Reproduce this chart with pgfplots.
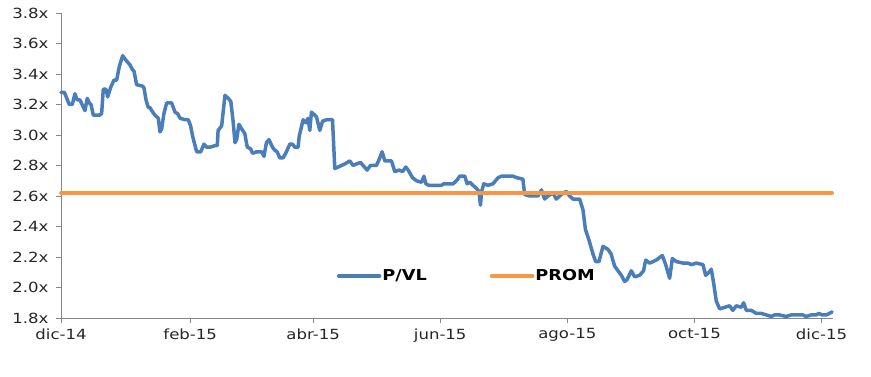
\documentclass[border=0pt]{standalone}
\usepackage{fontspec}
\setmainfont{DejaVu Sans}[FakeStretch=1.18]
\usepackage{pgfplots}
\pgfplotsset{compat=1.18}
\usetikzlibrary{calc}
\definecolor{pvl}{HTML}{4A7EBB}
\definecolor{prom}{HTML}{F79646}
\definecolor{axgray}{HTML}{868686}
\begin{document}
\begin{tikzpicture}
\begin{axis}[
  scale only axis,
  width=772pt, height=305pt,
  xmin=0, xmax=370.5,
  ymin=1.8, ymax=3.8,
  axis x line*=bottom, axis y line*=left,
  axis line style={axgray, line width=0.9pt},
  every tick/.style={axgray, line width=0.9pt},
  tick align=outside,
  major tick length=5pt,
  xtick={0,62,121,182,243,304,365},
  xticklabels={dic-14,feb-15,abr-15,jun-15,ago-15,oct-15,dic-15},
  ytick={1.8,2.0,2.2,2.4,2.6,2.8,3.0,3.2,3.4,3.6,3.8},
  yticklabel={\pgfmathprintnumber[fixed,fixed zerofill,precision=1]{\tick}x},
  /pgf/number format/assume math mode=true,
  ticklabel style={font=\fontsize{14}{16}\selectfont, text=black!85},
  xticklabel style={yshift=-2pt},
  yticklabel style={xshift=-4pt},
  clip=false,
  legend columns=2,
  legend style={draw=none, fill=none, at={(rel axis cs:0.525,0.138)}, anchor=center,
    font=\fontsize{15}{17}\selectfont\bfseries,
    nodes={inner xsep=1pt},
    /tikz/every even column/.append style={column sep=62pt}},
  legend image code/.code={\draw[#1, line cap=round] (1pt,0pt) -- (42pt,0pt);},
]
\coordinate (sw) at (rel axis cs:0,0);
\addplot[pvl, line width=3.5pt, line join=round, line cap=round] coordinates {
(0,3.28) (1.6,3.28) (4.0,3.20) (5.4,3.20) (6.7,3.27) (7.8,3.23) (9.1,3.23)
(11.5,3.16) (12.6,3.24) (13.6,3.21) (14.4,3.20) (15.5,3.13) (18.4,3.13) (19.5,3.14)
(20.3,3.30) (21.6,3.30) (22.4,3.25) (23.8,3.31) (25.4,3.36) (26.7,3.36) (28.0,3.45)
(29.6,3.52) (31.2,3.49) (33.1,3.46) (34.2,3.43) (35.0,3.42) (36.3,3.33) (39.2,3.32)
(39.8,3.31) (40.8,3.23) (41.9,3.18) (42.7,3.18) (44.0,3.15) (45.1,3.13) (46.7,3.11)
(47.5,3.02) (48.3,3.04) (49.4,3.14) (50.7,3.21) (53.1,3.21) (54.7,3.15) (56.0,3.14)
(57.1,3.11) (59.5,3.10) (61.1,3.10) (62.2,3.06) (63.2,2.99) (65.1,2.89) (67.1,2.89)
(68.6,2.94) (69.9,2.92) (71.5,2.92) (73.9,2.93) (75.0,2.93) (75.4,3.03) (77.1,3.06)
(78.7,3.26) (80.3,3.24) (81.5,3.22) (82.6,3.09) (83.5,2.95) (84.3,2.97) (85.4,3.07)
(86.7,3.04) (88.2,3.01) (89.4,2.92) (91.0,2.91) (91.9,2.88) (93.9,2.89) (96.3,2.89)
(97.4,2.86) (98.6,2.95) (99.8,2.97) (101.5,2.92) (102.6,2.90) (103.7,2.89) (105.0,2.85)
(106.6,2.85) (108.2,2.89) (109.8,2.94) (111.1,2.94) (112.2,2.92) (113.8,2.92) (114.3,2.99)
(116.2,3.10) (117.5,3.08) (118.6,3.11) (119.4,3.03) (120.2,3.15) (122.6,3.12) (124.2,3.03)
(125.5,3.09) (127.4,3.10) (130.3,3.10) (131.4,2.78) (133.0,2.79) (134.6,2.80) (136.2,2.81)
(138.6,2.83) (140.2,2.80) (141.8,2.81) (143.7,2.82) (145.0,2.80) (146.9,2.77) (148.5,2.80)
(151.4,2.80) (152.7,2.84) (154.1,2.89) (155.4,2.83) (158.6,2.83) (160.2,2.76) (162.3,2.77)
(163.9,2.76) (165.5,2.79) (166.6,2.77) (168.7,2.72) (170.6,2.70) (173.0,2.69) (174.2,2.73)
(175.1,2.68) (176.6,2.67) (179.4,2.67) (182.6,2.67) (183.7,2.68) (188.2,2.68) (189.8,2.70)
(191.4,2.73) (193.8,2.73) (194.9,2.68) (196.2,2.69) (197.7,2.67) (199.4,2.65) (200.6,2.63)
(201.3,2.54) (201.9,2.63) (202.9,2.68) (204.9,2.67) (207.3,2.68) (209.8,2.72) (211.4,2.73)
(216.9,2.73) (218.8,2.72) (221.7,2.71) (222.5,2.61) (224.9,2.60) (228.9,2.60) (230.6,2.64)
(232.1,2.58) (233.7,2.60) (236.1,2.62) (237.7,2.58) (240.1,2.61) (242.5,2.63) (244.1,2.60)
(245.7,2.58) (248.9,2.58) (250.5,2.51) (251.7,2.38) (253.4,2.31) (255.3,2.22) (256.6,2.17)
(258.2,2.17) (260.1,2.27) (262.5,2.25) (264.0,2.22) (265.7,2.14) (267.3,2.11) (268.9,2.08)
(270.5,2.04) (271.6,2.05) (273.7,2.11) (275.3,2.07) (277.7,2.08) (279.6,2.11) (280.6,2.18)
(282.5,2.16) (285.7,2.18) (288.6,2.21) (290.2,2.15) (292.1,2.06) (293.4,2.19) (295.3,2.17)
(298.5,2.16) (300.9,2.16) (302.5,2.15) (304.9,2.16) (308.1,2.15) (309.4,2.08) (311.0,2.10)
(312.1,2.12) (313.2,2.03) (314.5,1.91) (316.1,1.86) (318.5,1.87) (320.9,1.88) (322.4,1.85)
(324.1,1.88) (326.5,1.87) (327.6,1.90) (328.9,1.85) (331.3,1.85) (333.7,1.83) (336.1,1.83)
(338.5,1.82) (340.9,1.81) (342.4,1.82) (344.8,1.82) (348.0,1.81) (350.4,1.82) (352.8,1.82)
(356.0,1.82) (357.6,1.81) (360.0,1.82) (362.4,1.82) (363.7,1.83) (365.3,1.82) (367.2,1.82)
(368.8,1.83) (370.1,1.84)
};
\addlegendentry{P/VL}
\addplot[prom, line width=3.6pt, line cap=round] coordinates {(0,2.62) (370.1,2.62)};
\addlegendentry{PROM}
\end{axis}
\pgfresetboundingbox
\path[use as bounding box] ($(sw)+(-61pt,-59pt)$) rectangle ($(sw)+(810pt,318pt)$);
\end{tikzpicture}
\end{document}
